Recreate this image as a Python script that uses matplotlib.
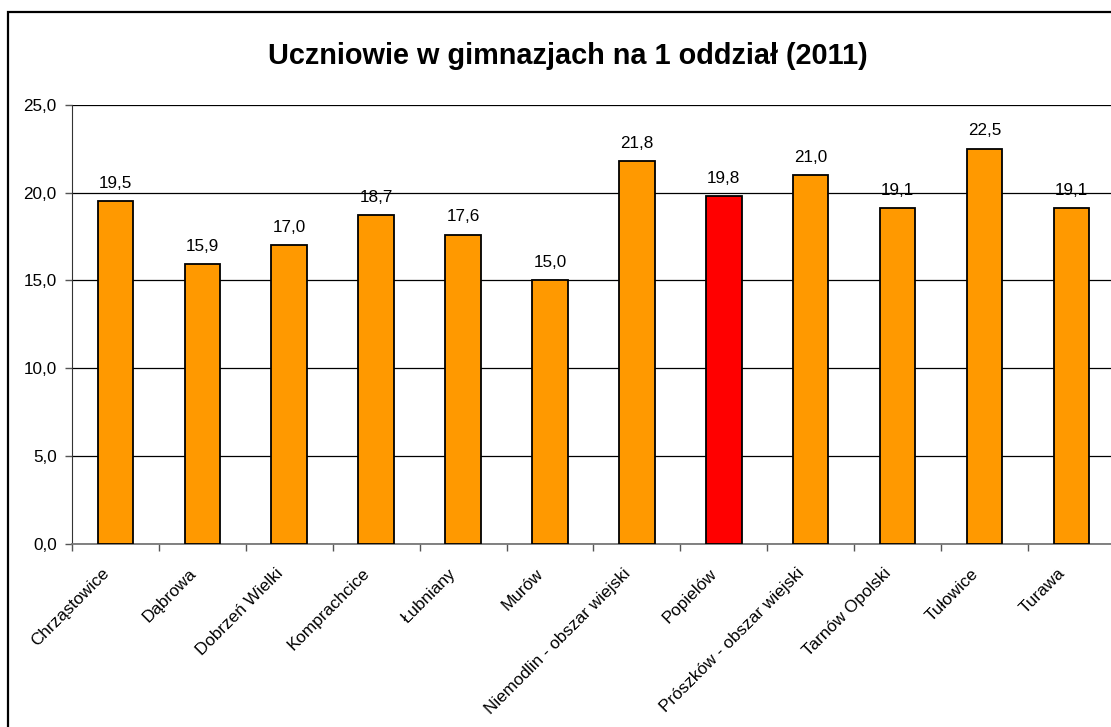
import matplotlib
matplotlib.use("Agg")
import matplotlib.pyplot as plt
from matplotlib.patches import Rectangle
from matplotlib.ticker import FuncFormatter, FixedLocator
from matplotlib.transforms import offset_copy
import numpy as np

plt.rcParams['font.family'] = ['Liberation Sans', 'DejaVu Sans']

categories = ["Chrząstowice", "Dąbrowa", "Dobrzeń Wielki", "Komprachcice", "Łubniany",
              "Murów", "Niemodlin - obszar wiejski", "Popielów", "Prószków - obszar wiejski",
              "Tarnów Opolski", "Tułowice", "Turawa"]
values = [19.5, 15.9, 17.0, 18.7, 17.6, 15.0, 21.8, 19.8, 21.0, 19.1, 22.5, 19.1]
highlight = "Popielów"
title = "Uczniowie w gimnazjach na 1 oddział (2011)"
yticks = [0, 5, 10, 15, 20, 25]

W, H = 1111, 727
fig = plt.figure(figsize=(W / 100, H / 100), dpi=100)
ax = fig.add_axes([72 / W, 1 - 543.7 / H, 12 * 86.9 / W, (543.7 - 104.7) / H])

x = np.arange(len(categories))
colors = ['#FF0000' if c == highlight else '#FF9900' for c in categories]
ax.bar(x, values, width=0.41, color=colors, edgecolor='black', linewidth=1.3, zorder=3)

ax.set_xlim(-0.5, len(categories) - 0.5)
ax.set_ylim(0, 25)
ax.set_yticks(yticks)
ax.yaxis.set_major_formatter(FuncFormatter(lambda v, p: f"{v:.1f}".replace('.', ',')))
ax.grid(axis='y', color='black', linewidth=0.9, zorder=1)
ax.set_axisbelow(True)

ax.set_xticks(x)
ax.set_xticklabels([])
ax.tick_params(axis='x', which='major', length=0)
ax.xaxis.set_minor_locator(FixedLocator(np.arange(len(categories) + 1) - 0.5))
ax.tick_params(axis='x', which='minor', length=5, width=1, color='#555555', direction='out')
ax.tick_params(axis='y', length=5, width=1, color='#555555', labelsize=12.3, pad=6)

lbl_tr = offset_copy(ax.get_xaxis_transform(), fig=fig, x=-14, y=-22, units='dots')
for xi, c in zip(x, categories):
    ax.text(xi, 0, c, transform=lbl_tr, rotation=45, ha='right', va='top',
            rotation_mode='anchor', fontsize=12.3, clip_on=False)

for s in ['top', 'right']:
    ax.spines[s].set_visible(False)
ax.spines['left'].set_color('#333333')
ax.spines['bottom'].set_color('#777777')
ax.spines['bottom'].set_linewidth(1.3)

for xi, v in zip(x, values):
    ax.annotate(f"{v:.1f}".replace('.', ','), (xi, v), xytext=(0, 9.5), textcoords='offset points',
                ha='center', va='baseline', fontsize=12.3, zorder=4)

fig.text(568 / W, 1 - 56 / H, title, ha='center', va='center', fontsize=20.8, fontweight='bold')

frame = Rectangle((8 / W, -0.1), 1.2, 1 - 12 / H + 0.1, transform=fig.transFigure,
                  fill=False, edgecolor='black', linewidth=1.6, clip_on=False)
fig.patches.append(frame)

fig.savefig("out.png", dpi=100)
